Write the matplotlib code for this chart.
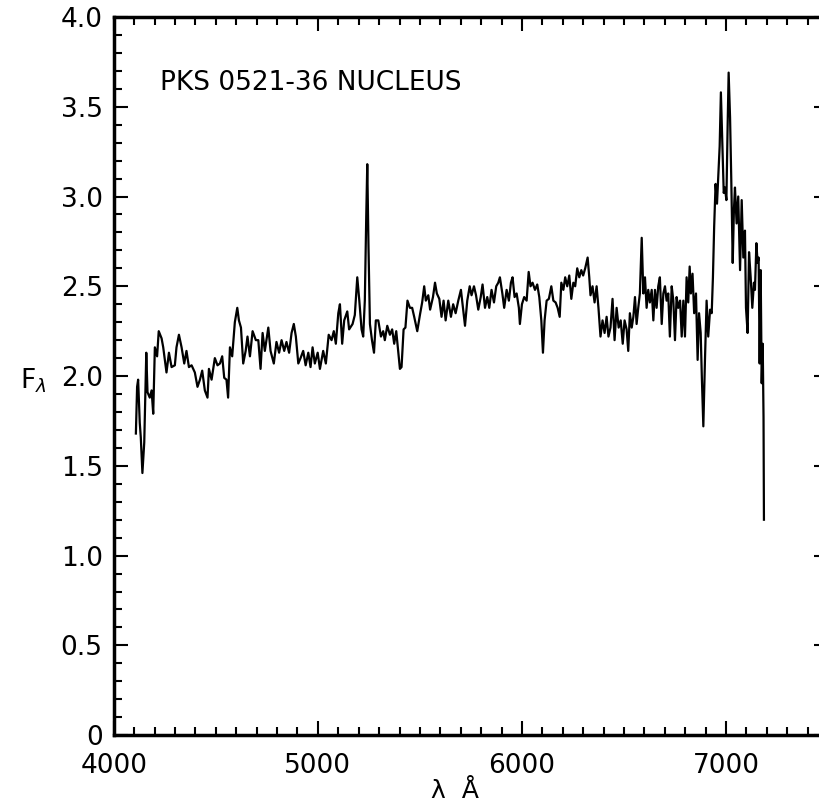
import matplotlib
matplotlib.use("Agg")
import matplotlib.pyplot as plt
from matplotlib.ticker import MultipleLocator

# wavelength (Angstrom) and flux
wave = [
    4108, 4114, 4119, 4127, 4132, 4140, 4149, 4159, 4165, 4176, 4185, 4193,
    4201, 4212, 4220, 4234, 4242, 4258, 4270, 4283, 4299, 4307, 4319, 4332,
    4345, 4356, 4368, 4381, 4397, 4410, 4422, 4433, 4446, 4459, 4466, 4479,
    4495, 4508, 4520, 4531, 4541, 4552, 4560, 4569, 4580, 4593, 4605, 4613,
    4623, 4634, 4646, 4655, 4667, 4680,
    4696, 4708, 4719, 4729, 4740, 4757, 4768, 4784, 4797, 4810, 4822, 4835,
    4846, 4859, 4871, 4882, 4892, 4904, 4915, 4928, 4940, 4953, 4964, 4974,
    4985, 4999, 5010, 5026, 5039, 5053, 5067, 5078, 5088, 5100, 5108, 5119,
    5129, 5144, 5153, 5170, 5181, 5193, 5203, 5214, 5222, 5230, 5237, 5242,
    5248, 5255, 5265, 5275, 5284, 5296,
    5309, 5320, 5328, 5340, 5353, 5364, 5374, 5384, 5394, 5402, 5410, 5420,
    5429, 5439, 5451, 5462, 5472, 5487, 5500, 5511, 5521, 5529, 5541, 5550,
    5564, 5574, 5583, 5595, 5606, 5616, 5626, 5639, 5652, 5663, 5675, 5688,
    5701, 5711, 5721, 5732, 5744, 5753, 5765, 5775, 5786, 5798, 5807, 5819,
    5830, 5840, 5851, 5863, 5874, 5884, 5892, 5904, 5913,
    5925, 5936, 5946, 5954, 5964, 5974, 5985, 5990, 6000, 6011, 6023, 6033,
    6042, 6052, 6064, 6075, 6085, 6095, 6103, 6111, 6121, 6132, 6144, 6154,
    6165, 6175, 6185, 6193, 6203, 6212, 6222, 6232, 6242, 6252, 6261, 6271,
    6281, 6291, 6300, 6310, 6322, 6330, 6336, 6346, 6356, 6366, 6375, 6385,
    6395, 6405, 6415, 6424, 6434, 6444, 6454, 6464, 6474, 6484, 6494, 6503,
    6513, 6521, 6529, 6538, 6546, 6554, 6562, 6570, 6578, 6587, 6595, 6603,
    6611, 6619, 6627, 6636, 6644, 6652, 6660, 6668, 6676, 6685, 6693, 6701,
    6709, 6717, 6725, 6734, 6742, 6750, 6758, 6766, 6775, 6783, 6791, 6799,
    6807, 6815, 6822, 6828, 6836, 6844, 6853, 6861, 6868, 6876, 6882, 6889,
    6897, 6905, 6913, 6922, 6930, 6936, 6942, 6949, 6956, 6962, 6969, 6975,
    6982, 6989, 6995, 7002, 7008, 7013, 7020, 7026, 7033, 7039,
    7044, 7052, 7060, 7069, 7077, 7085, 7093, 7098, 7106, 7113, 7121, 7129,
    7137, 7142, 7149, 7155, 7160, 7165, 7170, 7175, 7180, 7184, 7186,
]
flux = [
    1.68, 1.94, 1.98, 1.74, 1.66, 1.46, 1.63, 2.13, 1.91, 1.88, 1.92, 1.79,
    2.16, 2.11, 2.25, 2.21, 2.16, 2.02, 2.13, 2.05, 2.06, 2.16, 2.23, 2.16,
    2.07, 2.14, 2.05, 2.06, 2.02, 1.94, 1.98, 2.03, 1.92, 1.88, 2.04, 1.98,
    2.10, 2.06, 2.07, 2.11, 1.99, 1.98, 1.88, 2.16, 2.11, 2.30, 2.38, 2.31,
    2.27, 2.07, 2.14, 2.22, 2.11, 2.25,
    2.20, 2.20, 2.04, 2.24, 2.14, 2.27, 2.14, 2.07, 2.19, 2.13, 2.20, 2.14,
    2.19, 2.13, 2.24, 2.29, 2.22, 2.07, 2.10, 2.14, 2.06, 2.13, 2.05, 2.16,
    2.07, 2.13, 2.04, 2.14, 2.07, 2.23, 2.20, 2.25, 2.18, 2.35, 2.40, 2.18,
    2.31, 2.36, 2.26, 2.29, 2.34, 2.55, 2.42, 2.26, 2.22, 2.42, 2.89, 3.18,
    2.72, 2.29, 2.20, 2.13, 2.31, 2.31,
    2.22, 2.25, 2.20, 2.28, 2.23, 2.26, 2.18, 2.25, 2.13, 2.04, 2.05, 2.26,
    2.27, 2.42, 2.38, 2.38, 2.33, 2.25, 2.34, 2.41, 2.50, 2.42, 2.45, 2.37,
    2.44, 2.52, 2.46, 2.43, 2.33, 2.42, 2.31, 2.42, 2.33, 2.40, 2.35, 2.42,
    2.48, 2.38, 2.28, 2.42, 2.50, 2.45, 2.50, 2.45, 2.37, 2.44, 2.51, 2.38,
    2.44, 2.38, 2.48, 2.41, 2.50, 2.52, 2.55, 2.46, 2.38,
    2.48, 2.42, 2.52, 2.55, 2.44, 2.46, 2.38, 2.29, 2.40, 2.44, 2.42, 2.58,
    2.50, 2.52, 2.48, 2.51, 2.44, 2.31, 2.13, 2.31, 2.42, 2.43, 2.50, 2.42,
    2.41, 2.38, 2.33, 2.52, 2.48, 2.55, 2.50, 2.56, 2.43, 2.52, 2.50, 2.60,
    2.55, 2.59, 2.56, 2.60, 2.66, 2.55, 2.45, 2.50, 2.41, 2.50, 2.38, 2.22,
    2.31, 2.24, 2.33, 2.22, 2.27, 2.43, 2.20, 2.38, 2.27, 2.31, 2.18, 2.31,
    2.26, 2.14, 2.35, 2.27, 2.33, 2.44, 2.29, 2.38, 2.46, 2.77, 2.46, 2.55,
    2.38, 2.48, 2.41, 2.48, 2.31, 2.48, 2.38, 2.50, 2.55, 2.29, 2.46, 2.50,
    2.42, 2.46, 2.22, 2.50, 2.42, 2.20, 2.44, 2.38, 2.42, 2.22, 2.42, 2.22,
    2.55, 2.41, 2.61, 2.46, 2.57, 2.35, 2.46, 2.09, 2.35, 2.24, 1.98, 1.72,
    2.09, 2.42, 2.22, 2.37, 2.35, 2.55, 2.83, 3.07, 2.96, 3.11, 3.28, 3.58,
    3.30, 3.02, 3.05, 2.98, 3.39, 3.69, 3.44, 3.09, 2.63, 2.93,
    3.05, 2.85, 3.00, 2.59, 2.98, 2.66, 2.81, 2.38, 2.24, 2.69, 2.55, 2.38,
    2.52, 2.48, 2.74, 2.63, 2.66, 2.07, 2.59, 1.96, 2.18, 1.77, 1.20,
]

y_ticks = [0, 0.5, 1.0, 1.5, 2.0, 2.5, 3.0, 3.5, 4.0]
y_tick_labels = ["0", "0.5", "1.0", "1.5", "2.0", "2.5", "3.0", "3.5", "4.0"]
x_ticks = [4000, 5000, 6000, 7000]

plt.rcParams['font.family'] = ['DejaVu Sans']

fig = plt.figure(figsize=(8.19, 8.07), dpi=100)
ax = fig.add_axes([0.139, 0.089, 0.872, 0.890])

ax.plot(wave, flux, color="black", lw=1.6)

ax.set_xlim(4000, 7500)
ax.set_ylim(0, 4.0)

ax.set_xticks(x_ticks)
ax.set_xticklabels([str(t) for t in x_ticks])
ax.xaxis.set_minor_locator(MultipleLocator(100))
ax.set_yticks(y_ticks)
ax.set_yticklabels(y_tick_labels)
ax.yaxis.set_minor_locator(MultipleLocator(0.1))

ax.tick_params(which="both", direction="in", top=True, right=True,
               width=1.5, labelsize=19)
ax.tick_params(which="major", length=10)
ax.tick_params(axis="y", which="major", pad=8)
ax.tick_params(axis="x", which="major", pad=13)
ax.tick_params(which="minor", length=6)
for s in ax.spines.values():
    s.set_linewidth(2.5)

ax.text(0.064, 0.908, "PKS 0521-36 NUCLEUS", transform=ax.transAxes,
        fontsize=19, va="center", ha="left")

fig.text(0.04, 0.528, r"F$_\lambda$", fontsize=19, ha="center", va="center")
fig.text(0.555, 0.02, "λ  Å", fontsize=18, ha="center", va="center")

fig.savefig("out.png", dpi=100)
